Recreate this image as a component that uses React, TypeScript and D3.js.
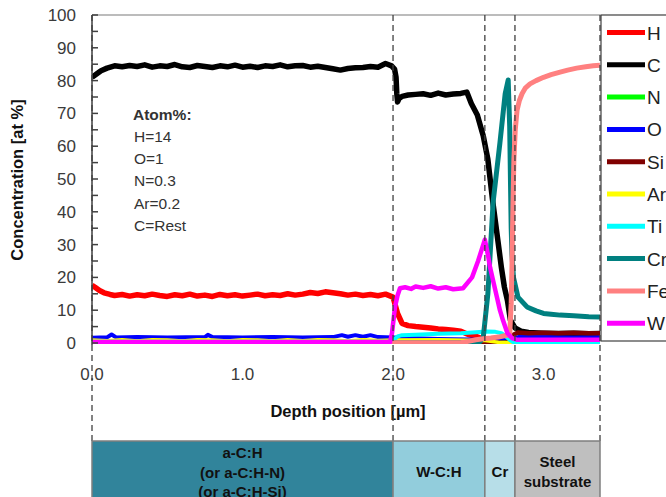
import React from "react";
import * as d3 from "d3";

// Depth profile of a DLC coating system: concentration [at %] vs. depth [µm]
type Pt = [number, number];

const seriesNames = ["H", "C", "N", "O", "Si", "Ar", "Ti", "Cr", "Fe", "W"];

const hydrogen: Pt[] = [
  [0.0, 17.6], [0.02, 17.0], [0.05, 16.0], [0.08, 15.3], [0.12, 14.8], [0.15, 14.5],
  [0.2, 14.8], [0.25, 14.3], [0.3, 14.7], [0.35, 14.4], [0.4, 14.9], [0.45, 14.5],
  [0.5, 14.2], [0.55, 14.7], [0.6, 14.4], [0.65, 14.9], [0.7, 14.3], [0.75, 14.6],
  [0.8, 14.2], [0.85, 14.8], [0.9, 14.4], [0.95, 14.7], [1.0, 14.3], [1.05, 14.6],
  [1.1, 14.9], [1.15, 14.4], [1.2, 14.7], [1.25, 14.5], [1.3, 15.0], [1.35, 14.6],
  [1.4, 14.9], [1.45, 15.4], [1.5, 15.1], [1.55, 15.6], [1.6, 15.3], [1.65, 15.0],
  [1.7, 14.6], [1.75, 14.9], [1.8, 14.5], [1.85, 14.8], [1.9, 14.4], [1.95, 14.9],
  [2.0, 14.0], [2.03, 9.0], [2.06, 6.0], [2.1, 5.3], [2.15, 5.0], [2.2, 4.8],
  [2.25, 4.6], [2.3, 4.3], [2.35, 4.1], [2.4, 3.9], [2.45, 3.6], [2.5, 2.6],
  [2.55, 2.0], [2.6, 1.2], [2.65, 0.6], [2.7, 0.3], [2.8, 0.2], [3.375, 0.2],
];

const carbon: Pt[] = [
  [0.0, 81.0], [0.03, 82.0], [0.06, 83.0], [0.1, 83.8], [0.15, 84.5], [0.2, 84.2],
  [0.25, 84.6], [0.3, 84.3], [0.35, 84.8], [0.4, 84.1], [0.45, 84.5], [0.5, 84.3],
  [0.55, 84.9], [0.6, 84.2], [0.65, 84.0], [0.7, 84.6], [0.75, 84.3], [0.8, 84.0],
  [0.85, 84.5], [0.9, 84.2], [0.95, 84.7], [1.0, 84.1], [1.05, 84.4], [1.1, 84.0],
  [1.15, 84.5], [1.2, 84.3], [1.25, 84.8], [1.3, 84.2], [1.35, 84.5], [1.4, 84.6],
  [1.45, 84.1], [1.5, 84.4], [1.55, 84.0], [1.6, 83.6], [1.65, 83.2], [1.7, 83.7],
  [1.75, 83.9], [1.8, 84.0], [1.85, 84.3], [1.9, 84.1], [1.95, 85.2], [1.99, 84.5],
  [2.01, 83.5], [2.02, 81.0], [2.025, 76.0], [2.03, 73.5], [2.04, 74.5], [2.06, 75.2],
  [2.1, 75.6], [2.15, 75.8], [2.2, 76.0], [2.25, 75.5], [2.3, 76.2], [2.35, 75.6],
  [2.4, 75.9], [2.45, 76.1], [2.49, 76.5], [2.52, 73.0], [2.56, 69.5], [2.6, 63.0],
  [2.63, 56.0], [2.66, 44.0], [2.69, 33.5], [2.72, 23.0], [2.74, 17.0], [2.76, 13.0],
  [2.78, 7.0], [2.81, 4.6], [2.85, 3.6], [2.9, 3.2], [3.0, 3.0], [3.1, 2.9],
  [3.2, 3.0], [3.3, 2.8], [3.375, 2.9],
];

const nitrogen: Pt[] = [[0.0, 0.3], [1.0, 0.3], [2.0, 0.3], [2.6, 0.3], [3.375, 0.3]];

const oxygen: Pt[] = [
  [0.0, 1.6], [0.05, 1.7], [0.1, 1.7], [0.13, 2.6], [0.16, 1.7], [0.3, 1.8],
  [0.5, 1.7], [0.75, 1.8], [0.77, 2.5], [0.8, 1.8], [1.0, 1.7], [1.2, 1.8],
  [1.4, 1.7], [1.6, 1.8], [1.66, 2.4], [1.7, 1.9], [1.75, 2.4], [1.8, 1.9],
  [1.85, 2.4], [1.9, 1.8], [2.0, 1.7], [2.3, 1.2], [2.6, 1.0], [2.8, 1.5],
  [2.85, 2.0], [3.0, 1.8], [3.2, 1.7], [3.375, 1.8],
];

const silicon: Pt[] = [
  [0.0, 0.1], [2.0, 0.1], [2.75, 0.1], [2.78, 1.0], [2.8, 2.5], [2.83, 3.2],
  [2.9, 3.0], [3.0, 3.1], [3.1, 3.0], [3.2, 3.1], [3.3, 3.0], [3.375, 3.0],
];

const argon: Pt[] = [
  [0.0, 0.9], [0.1, 0.7], [0.2, 1.0], [0.3, 0.6], [0.4, 1.0], [0.5, 0.9],
  [0.6, 0.6], [0.7, 1.0], [0.8, 0.9], [0.9, 0.6], [1.0, 1.0], [1.1, 0.9],
  [1.2, 0.6], [1.3, 1.0], [1.4, 0.7], [1.5, 1.0], [1.6, 0.9], [1.7, 0.6],
  [1.8, 1.0], [1.9, 0.8], [2.0, 0.9], [2.3, 1.0], [2.6, 0.8], [2.7, 0.2],
  [3.375, 0.1],
];

const titanium: Pt[] = [
  [0.0, 0.4], [1.98, 0.4], [2.0, 0.8], [2.03, 2.0], [2.06, 2.4], [2.15, 2.5],
  [2.3, 2.8], [2.45, 3.0], [2.55, 3.3], [2.62, 3.5], [2.68, 3.4], [2.72, 3.0],
  [2.75, 2.0], [2.78, 0.8], [2.8, 0.2], [3.375, 0.2],
];

const chromium: Pt[] = [
  [0.0, 0.1], [2.56, 0.1], [2.58, 0.5], [2.6, 2.0], [2.63, 15.0], [2.665, 43.0],
  [2.71, 61.0], [2.745, 76.0], [2.765, 80.2], [2.775, 66.0], [2.78, 50.0], [2.785, 35.0],
  [2.79, 27.0], [2.8, 20.0], [2.83, 14.0], [2.89, 11.0], [2.95, 9.8], [3.0, 9.0],
  [3.05, 8.8], [3.11, 8.5], [3.2, 8.3], [3.3, 8.0], [3.375, 7.9],
];

const iron: Pt[] = [
  [0.0, 0.1], [2.45, 0.1], [2.5, 0.5], [2.55, 1.0], [2.6, 1.3], [2.65, 1.5],
  [2.7, 1.8], [2.74, 2.2], [2.775, 2.5], [2.785, 12.0], [2.79, 23.0], [2.797, 43.0],
  [2.803, 56.0], [2.812, 65.0], [2.824, 71.0], [2.84, 74.0], [2.857, 76.0], [2.88, 77.8],
  [2.91, 79.0], [2.95, 80.0], [3.0, 81.0], [3.05, 81.8], [3.11, 82.6], [3.16, 83.2],
  [3.22, 83.8], [3.28, 84.2], [3.33, 84.5], [3.375, 84.7],
];

const tungsten: Pt[] = [
  [0.0, 0.3], [1.0, 0.3], [1.98, 0.3], [1.993, 3.0], [2.013, 11.0], [2.03, 14.5],
  [2.046, 16.7], [2.08, 17.0], [2.12, 16.5], [2.15, 17.2], [2.2, 16.8], [2.25, 17.3],
  [2.3, 16.6], [2.35, 17.0], [2.4, 16.4], [2.465, 16.7], [2.525, 20.0], [2.565, 25.0],
  [2.61, 31.5], [2.63, 27.0], [2.645, 23.0], [2.67, 18.0], [2.69, 14.0], [2.71, 10.0],
  [2.73, 7.0], [2.76, 3.0], [2.79, 1.5], [2.82, 1.0], [3.375, 1.0],
];

const seriesData: Pt[][] = [
  hydrogen, carbon, nitrogen, oxygen, silicon, argon, titanium, chromium, iron, tungsten,
];

const seriesColors = [
  "#ff0000", "#000000", "#00ff00", "#0000ff", "#800000",
  "#ffff00", "#00ffff", "#008080", "#ff8080", "#ff00ff",
];
const seriesWidths = [5.5, 5.5, 4, 4, 4.5, 3.5, 4, 5, 5, 4.5];

const depthTicks = [0, 1, 2, 3];
const concTicks = [0, 10, 20, 30, 40, 50, 60, 70, 80, 90, 100];
const minorTicks = [5, 15, 25, 35, 45, 55, 65, 75, 85, 95];

const layerBounds = [0, 2.0, 2.61, 2.81, 3.375];
const layerLabels = [
  ["a-C:H", "(or a-C:H-N)", "(or a-C:H-Si)"],
  ["W-C:H"],
  ["Cr"],
  ["Steel", "substrate"],
];
const layerFills = ["#31849b", "#92cddc", "#b7dee8", "#bfbfbf"];

const annotation = ["H=14", "O=1", "N=0.3", "Ar=0.2", "C=Rest"];

export default function App() {
  const W = 666;
  const H = 497;
  const left = 92;
  const right = 600;
  const top = 15;
  const bottom = 343;
  const layerTop = 441;

  const x = d3.scaleLinear().domain([0, 3.375]).range([left, right]);
  const y = d3.scaleLinear().domain([0, 100]).range([bottom, top]);
  const line = d3
    .line<Pt>()
    .x((d) => x(d[0]))
    .y((d) => y(d[1]));

  const font = "Arial, 'Liberation Sans', Helvetica, sans-serif";

  return (
    <svg
      width={W}
      height={H}
      viewBox={`0 0 ${W} ${H}`}
      style={{ position: "absolute", left: 0, top: 0, background: "#fff" }}
      fontFamily={font}
    >
      <defs>
        <clipPath id="plotClip">
          <rect x={left} y={top - 4} width={right - left} height={bottom - top + 5} />
        </clipPath>
      </defs>

      {/* plot frame */}
      <line x1={left} x2={right} y1={top} y2={top} stroke="#a6a6a6" strokeWidth={1.5} />

      {/* series */}
      <g clipPath="url(#plotClip)">
        {seriesData.map((pts, i) => (
          <path
            key={seriesNames[i]}
            d={line(pts) || ""}
            fill="none"
            stroke={seriesColors[i]}
            strokeWidth={seriesWidths[i]}
            strokeLinejoin="round"
          />
        ))}
      </g>

      {/* y axis */}
      <line x1={left} x2={left} y1={top} y2={bottom + 2} stroke="#404040" strokeWidth={1.5} />
      {concTicks.concat(minorTicks).map((t) => (
        <line key={"t" + t} x1={left} x2={left + 6} y1={y(t)} y2={y(t)} stroke="#404040" strokeWidth={1.5} />
      ))}
      {concTicks.map((t) => (
        <text key={"l" + t} x={76} y={y(t) + 6} textAnchor="end" fontSize={17} fill="#3a3a3a">
          {t}
        </text>
      ))}
      <text
        transform={`translate(23,180) rotate(-90)`}
        textAnchor="middle"
        fontSize={16.5}
        fontWeight="bold"
        fill="#111"
      >
        Concentration [at %]
      </text>

      {/* x tick labels */}
      {depthTicks.map((t) => (
        <text key={"x" + t} x={x(t)} y={380} textAnchor="middle" fontSize={17} fill="#3a3a3a">
          {t.toFixed(1)}
        </text>
      ))}
      <text x={348} y={417} textAnchor="middle" fontSize={16.5} fontWeight="bold" fill="#111">
        Depth position [µm]
      </text>

      {/* layer boundaries */}
      {layerBounds.map((b) => (
        <line
          key={"b" + b}
          x1={x(b)}
          x2={x(b)}
          y1={top}
          y2={layerTop}
          stroke="#404040"
          strokeWidth={1.3}
          strokeDasharray="6,4"
        />
      ))}

      {/* annotation */}
      <g fontSize={15.5} fill="#333">
        <text x={133} y={120} fontWeight="bold">Atom%:</text>
        {annotation.map((s, i) => (
          <text key={s} x={134} y={142 + i * 22.2}>
            {s}
          </text>
        ))}
      </g>

      {/* legend */}
      <rect x={601} y={top} width={120} height={326} fill="#fff" stroke="#404040" strokeWidth={1.2} />
      {seriesNames.map((n, i) => {
        const cy = 32.5 + i * 32.3;
        return (
          <g key={"lg" + n}>
            <line x1={607} x2={645} y1={cy} y2={cy} stroke={seriesColors[i]} strokeWidth={5} />
            <text x={647} y={cy + 7} fontSize={19} fill="#222">
              {n}
            </text>
          </g>
        );
      })}

      {/* layer bar */}
      {layerLabels.map((lines, i) => {
        const x0 = x(layerBounds[i]);
        const x1 = x(layerBounds[i + 1]);
        const cx = (x0 + x1) / 2;
        const n = lines.length;
        const startY = n === 3 ? 458 : n === 2 ? 467 : 477;
        return (
          <g key={"layer" + i}>
            <rect x={x0} y={layerTop} width={x1 - x0} height={70} fill={layerFills[i]} stroke="#7f7f7f" strokeWidth={1.5} />
            {lines.map((s, j) => (
              <text
                key={s}
                x={cx}
                y={startY + j * 19.5}
                textAnchor="middle"
                fontSize={15}
                fontWeight="bold"
                fill="#111"
              >
                {s}
              </text>
            ))}
          </g>
        );
      })}
    </svg>
  );
}
